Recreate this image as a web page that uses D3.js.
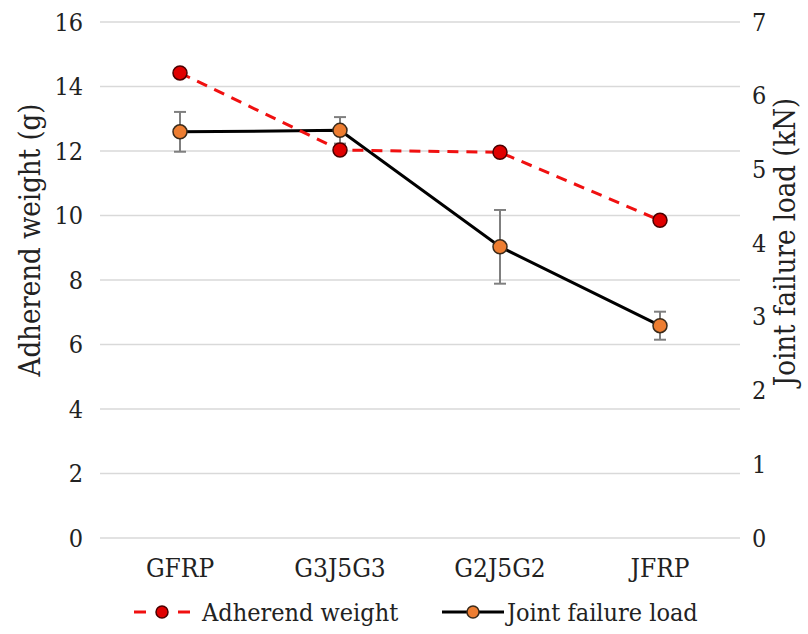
<!DOCTYPE html>
<html>
<head>
<meta charset="utf-8">
<script src="https://cdn.jsdelivr.net/npm/d3@7"></script>
<style>
  body { margin: 0; background: #fff; }
  svg text { fill: #222; font-stretch: condensed; }
</style>
</head>
<body>
<div id="chart"></div>
<script>
// data
var categories = ["GFRP", "G3J5G3", "G2J5G2", "JFRP"];
var adherendWeight = [14.42, 12.03, 11.96, 9.85];   // g, left axis
var jointLoad = [5.51, 5.53, 3.95, 2.88];           // kN, right axis
var jointErr = [0.27, 0.18, 0.5, 0.19];
var leftTicks = [0, 2, 4, 6, 8, 10, 12, 14, 16];
var rightTicks = [0, 1, 2, 3, 4, 5, 6, 7];

var width = 808;
var height = 634;
var plotLeft = 100;
var plotRight = 740;
var plotTop = 22;
var plotBottom = 538;
var serif = "'DejaVu Serif Condensed', 'DejaVu Serif', serif";

var svg = d3.select("#chart")
  .append("svg")
  .attr("width", width)
  .attr("height", height)
  .attr("font-family", serif);

var xScale = d3.scaleBand()
  .domain(categories)
  .range([plotLeft, plotRight])
  .padding(0);
var bw = xScale.bandwidth();
function cx(c) { return xScale(c) + bw / 2; }

var yLeft = d3.scaleLinear().domain([0, 16]).range([plotBottom, plotTop]);
var yRight = d3.scaleLinear().domain([0, 7]).range([plotBottom, plotTop]);

// gridlines
svg.append("g")
  .selectAll("line")
  .data(leftTicks)
  .enter()
  .append("line")
  .attr("x1", plotLeft)
  .attr("x2", plotRight)
  .attr("y1", function(d) { return yLeft(d); })
  .attr("y2", function(d) { return yLeft(d); })
  .attr("stroke", "#d9d9d9")
  .attr("stroke-width", 1.5);

// left axis
var leftAxis = d3.axisLeft(yLeft).tickValues(leftTicks).tickSize(0).tickPadding(17)
  .tickFormat(d3.format("d"));
var gl = svg.append("g")
  .attr("transform", "translate(" + plotLeft + ",0)")
  .call(leftAxis);
gl.select(".domain").remove();
gl.attr("font-size", 25).attr("font-family", serif);
gl.selectAll("text").attr("fill", "#222");

// right axis
var rightAxis = d3.axisRight(yRight).tickValues(rightTicks).tickSize(0).tickPadding(12)
  .tickFormat(d3.format("d"));
var gr = svg.append("g")
  .attr("transform", "translate(" + plotRight + ",0)")
  .call(rightAxis);
gr.select(".domain").remove();
gr.attr("font-size", 25).attr("font-family", serif);
gr.selectAll("text").attr("fill", "#222");

// x axis labels
var xAxis = d3.axisBottom(xScale).tickSize(0).tickPadding(21);
var gx = svg.append("g")
  .attr("transform", "translate(0," + plotBottom + ")")
  .call(xAxis);
gx.select(".domain").remove();
gx.attr("font-size", 26).attr("font-family", serif);
gx.selectAll("text").attr("fill", "#222");

// axis titles
svg.append("text")
  .attr("transform", "translate(40,240)rotate(-90)")
  .attr("text-anchor", "middle")
  .attr("font-size", 29)
  .text("Adherend weight (g)");

svg.append("text")
  .attr("transform", "translate(795,242)rotate(-90)")
  .attr("text-anchor", "middle")
  .attr("font-size", 29)
  .text("Joint failure load (kN)");

// joint failure load: error bars
var errG = svg.append("g");
categories.forEach(function(c, i) {
  var x = cx(c);
  var lo = yRight(jointLoad[i] - jointErr[i]);
  var hi = yRight(jointLoad[i] + jointErr[i]);
  errG.append("line").attr("x1", x).attr("x2", x).attr("y1", lo).attr("y2", hi)
    .attr("stroke", "#7f7f7f").attr("stroke-width", 2);
  errG.append("line").attr("x1", x - 6).attr("x2", x + 6).attr("y1", lo).attr("y2", lo)
    .attr("stroke", "#7f7f7f").attr("stroke-width", 2);
  errG.append("line").attr("x1", x - 6).attr("x2", x + 6).attr("y1", hi).attr("y2", hi)
    .attr("stroke", "#7f7f7f").attr("stroke-width", 2);
});

var jointLine = d3.line()
  .x(function(d, i) { return cx(categories[i]); })
  .y(function(d) { return yRight(d); });

svg.append("path")
  .datum(jointLoad)
  .attr("d", jointLine)
  .attr("fill", "none")
  .attr("stroke", "#000")
  .attr("stroke-width", 3);

svg.append("g")
  .selectAll("circle")
  .data(jointLoad)
  .enter()
  .append("circle")
  .attr("cx", function(d, i) { return cx(categories[i]); })
  .attr("cy", function(d) { return yRight(d); })
  .attr("r", 7)
  .attr("fill", "#ed7d31")
  .attr("stroke", "#3a2a1a")
  .attr("stroke-width", 1.5);

// adherend weight
var weightLine = d3.line()
  .x(function(d, i) { return cx(categories[i]); })
  .y(function(d) { return yLeft(d); });

svg.append("path")
  .datum(adherendWeight)
  .attr("d", weightLine)
  .attr("fill", "none")
  .attr("stroke", "#f01010")
  .attr("stroke-width", 3)
  .attr("stroke-dasharray", "11,8");

svg.append("g")
  .selectAll("circle")
  .data(adherendWeight)
  .enter()
  .append("circle")
  .attr("cx", function(d, i) { return cx(categories[i]); })
  .attr("cy", function(d) { return yLeft(d); })
  .attr("r", 7)
  .attr("fill", "#e00000")
  .attr("stroke", "#4a0000")
  .attr("stroke-width", 1.5);

// legend
var legY = 612;
var leg = svg.append("g");
leg.append("line").attr("x1", 134).attr("x2", 146).attr("y1", legY).attr("y2", legY)
  .attr("stroke", "#f01010").attr("stroke-width", 3);
leg.append("line").attr("x1", 178).attr("x2", 190).attr("y1", legY).attr("y2", legY)
  .attr("stroke", "#f01010").attr("stroke-width", 3);
leg.append("circle").attr("cx", 162).attr("cy", legY).attr("r", 6)
  .attr("fill", "#e00000").attr("stroke", "#4a0000").attr("stroke-width", 1.5);
leg.append("text").attr("x", 202).attr("y", legY + 9).attr("font-size", 25).text("Adherend weight");

leg.append("line").attr("x1", 442).attr("x2", 504).attr("y1", legY).attr("y2", legY)
  .attr("stroke", "#000").attr("stroke-width", 3);
leg.append("circle").attr("cx", 473).attr("cy", legY).attr("r", 6)
  .attr("fill", "#ed7d31").attr("stroke", "#3a2a1a").attr("stroke-width", 1.5);
leg.append("text").attr("x", 507).attr("y", legY + 9).attr("font-size", 25).text("Joint failure load");
</script>
</body>
</html>
